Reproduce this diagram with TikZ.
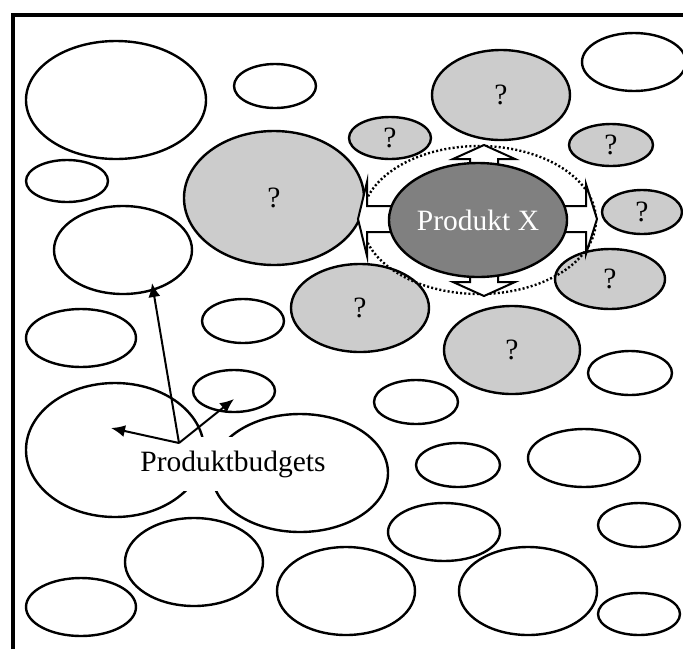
\documentclass[tikz,border=0pt]{standalone}
\usepackage{fontspec}
\setmainfont{Liberation Serif}
\usetikzlibrary{shapes.geometric,arrows.meta}

\begin{document}
\begin{tikzpicture}[x=1pt,y=-1pt,
    blob/.style={ellipse,draw=black,line width=2.4pt,fill=white,inner sep=0pt,
        font=\fontsize{29.5}{32}\selectfont},
    askblob/.style={blob,fill=black!20},
    pointer/.style={line width=2pt,-{Latex[length=14pt,width=12pt]}}]

    \useasboundingbox (0,0) rectangle (683,649);

    % frame (left and top only)
    \draw[line width=4pt] (13,649) |- (683,15);

    % plain budgets
    \node[blob,minimum width=180pt,minimum height=118pt] (b1) at (116,100) {};
    \node[blob,minimum width=82pt,minimum height=44pt] (b2) at (275,86) {};
    \node[blob,minimum width=104pt,minimum height=58pt] (b3) at (634,62) {};
    \node[blob,minimum width=82pt,minimum height=42pt] (b4) at (67,181) {};
    \node[blob,minimum width=138pt,minimum height=88pt] (b5) at (123,250) {};
    \node[blob,minimum width=82pt,minimum height=44pt] (b6) at (243,321) {};
    \node[blob,minimum width=110pt,minimum height=58pt] (b7) at (81,338) {};
    \node[blob,minimum width=84pt,minimum height=44pt] (b8) at (630,373) {};
    \node[blob,minimum width=82pt,minimum height=42pt] (b9) at (234,391) {};
    \node[blob,minimum width=84pt,minimum height=44pt] (b10) at (416,402) {};
    \node[blob,minimum width=178pt,minimum height=134pt] (b11) at (115,450) {};
    \node[blob,minimum width=176pt,minimum height=118pt] (b12) at (300,473) {};
    \node[blob,minimum width=84pt,minimum height=44pt] (b13) at (458,465) {};
    \node[blob,minimum width=112pt,minimum height=58pt] (b14) at (584,458) {};
    \node[blob,minimum width=112pt,minimum height=58pt] (b15) at (444,532) {};
    \node[blob,minimum width=82pt,minimum height=44pt] (b16) at (639,525) {};
    \node[blob,minimum width=138pt,minimum height=88pt] (b17) at (194,562) {};
    \node[blob,minimum width=138pt,minimum height=88pt] (b18) at (346,591) {};
    \node[blob,minimum width=110pt,minimum height=58pt] (b19) at (81,607) {};
    \node[blob,minimum width=138pt,minimum height=88pt] (b20) at (528,591) {};
    \node[blob,minimum width=82pt,minimum height=42pt] (b21) at (639,614) {};

    % neighbours of product X
    \node[askblob,minimum width=138pt,minimum height=90pt] (q1) at (501,95) {?};
    \node[askblob,minimum width=82pt,minimum height=42pt] (q2) at (390,138) {?};
    \node[askblob,minimum width=84pt,minimum height=42pt] (q3) at (611,145) {?};
    \node[askblob,minimum width=180pt,minimum height=134pt] (q4) at (274,198) {?};
    \node[askblob,minimum width=80pt,minimum height=44pt] (q5) at (642,212) {?};
    \node[askblob,minimum width=110pt,minimum height=60pt] (q6) at (610,279) {?};
    \node[askblob,minimum width=138pt,minimum height=88pt] (q7) at (360,308) {?};
    \node[askblob,minimum width=136pt,minimum height=88pt] (q8) at (512,350) {?};

    \node[ellipse,draw=black,line width=2.4pt,dash pattern=on 2pt off 2.2pt,
        minimum width=234pt,minimum height=148pt] (zone) at (479,220) {};

    % four-way block arrow behind product X
    \draw[line width=2pt,fill=white,line join=miter]
        (484,145) -- (515,159) -- (498,159) -- (498,206) -- (586,206) -- (586,184)
        -- (597,219) -- (586,254) -- (586,232) -- (498,232) -- (498,282) -- (515,282)
        -- (484,296) -- (453,282) -- (470,282) -- (470,232) -- (367,232) -- (367,256)
        -- (358,219) -- (367,182) -- (367,206) -- (470,206) -- (470,159) -- (453,159)
        -- cycle;

    \node[blob,fill=black!50,text=white,minimum width=178pt,minimum height=114pt]
        (px) at (478,220) {Produkt X};

    % label and its pointers
    \node[fill=white,inner xsep=2pt,inner ysep=14pt,font=\fontsize{29.5}{32}\selectfont]
        (pb) at (233,464) {Produktbudgets};
    \coordinate (pb-root) at (179,443);
    \coordinate (pb-up) at (152,283);
    \coordinate (pb-left) at (111,428);
    \coordinate (pb-right) at (234,399);
    \draw[pointer] (pb-root) -- (pb-up);
    \draw[pointer] (pb-root) -- (pb-left);
    \draw[pointer] (pb-root) -- (pb-right);

\end{tikzpicture}
\end{document}
